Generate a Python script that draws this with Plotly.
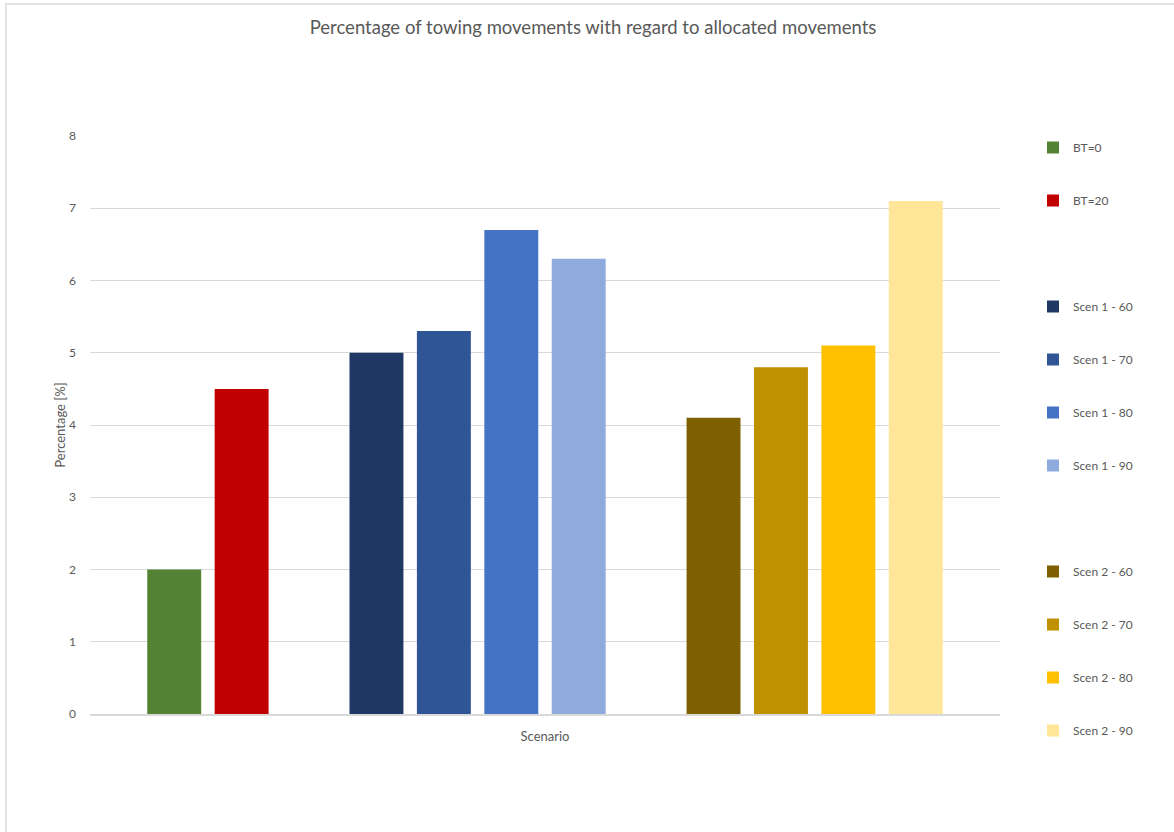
import plotly.graph_objects as go

category = ["Scenario"]
series_names = ["BT=0", "BT=20", " ", "Scen 1 - 60", "Scen 1 - 70", "Scen 1 - 80", "Scen 1 - 90",
                "  ", "Scen 2 - 60", "Scen 2 - 70", "Scen 2 - 80", "Scen 2 - 90"]
series_values = [2.0, 4.5, None, 5.0, 5.3, 6.7, 6.3, None, 4.1, 4.8, 5.1, 7.1]
series_colors = ["#548235", "#C00000", "rgba(0,0,0,0)", "#203864", "#2F5597", "#4472C4", "#8FAADC",
                 "rgba(0,0,0,0)", "#7F6000", "#BF9000", "#FFC000", "#FFE699"]
y_ticks = [0, 1, 2, 3, 4, 5, 6, 7, 8]

FONT = "Lato"
GRAY = "#595959"

fig = go.Figure()
for name, val, col in zip(series_names, series_values, series_colors):
    fig.add_trace(go.Bar(
        x=category, y=[val], name=name, marker=dict(color=col, line=dict(width=0)),
        legendgroup=name, showlegend=True, hoverinfo="skip" if val is None else None,
    ))

fig.update_layout(
    width=1174, height=832,
    margin=dict(l=90, r=174, t=136, b=118),
    paper_bgcolor="white", plot_bgcolor="white",
    barmode="group", bargap=0.111, bargroupgap=0.2,
    font=dict(family=FONT, color=GRAY, size=12),
    title=dict(text="Percentage of towing movements with regard to allocated movements",
               x=593 / 1174, xref="container", xanchor="center", y=1 - 28 / 832, yanchor="middle",
               font=dict(family=FONT, size=18.5, color=GRAY)),
    xaxis=dict(range=[-0.5, 0.5], showticklabels=False, ticks="", showgrid=False,
               showline=True, linecolor="#d9d9d9", linewidth=1.5,
               title=dict(text="Scenario", font=dict(size=13, color=GRAY), standoff=17),
               zeroline=False),
    yaxis=dict(range=[0, 8], tickvals=y_ticks, showgrid=True, gridcolor="#d9d9d9", gridwidth=1,
               zeroline=False, showline=False, ticks="", ticklabelstandoff=13,
               tickfont=dict(size=12, color=GRAY),
               title=dict(text="Percentage [%]", font=dict(size=13, color=GRAY), standoff=0)),
    legend=dict(x=(1033 - 90) / 910, xanchor="left", y=1.0 + 3 / 578, yanchor="top",
                traceorder="grouped", tracegroupgap=34, itemwidth=30, maxheight=800,
                font=dict(family=FONT, size=12, color=GRAY), bgcolor="rgba(0,0,0,0)",
                itemclick=False, itemdoubleclick=False),
    shapes=[dict(type="rect", xref="paper", yref="paper",
                 x0=(6 - 90) / 910, x1=(1185 - 90) / 910, y0=(714 - 845) / 578, y1=(714 - 4) / 578,
                 line=dict(color="#d9d9d9", width=1.5), fillcolor="rgba(0,0,0,0)", layer="below")],
)

fig.write_html("out.html")
